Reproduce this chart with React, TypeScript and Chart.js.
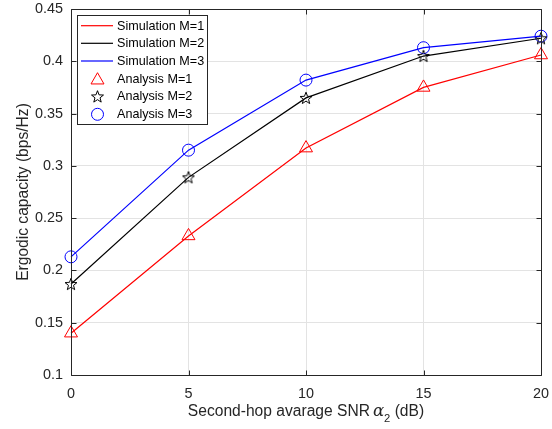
import React, { useEffect, useRef } from "react";
import { Chart, registerables } from "chart.js";

Chart.register(...registerables);

const snr = [0, 5, 10, 15, 20];
const simM1 = [0.14, 0.233, 0.317, 0.375, 0.406];
const simM2 = [0.187, 0.289, 0.365, 0.405, 0.422];
const simM3 = [0.213, 0.315, 0.382, 0.413, 0.424];
const anaM1 = [0.14, 0.233, 0.317, 0.375, 0.406];
const anaM2 = [0.187, 0.289, 0.365, 0.405, 0.422];
const anaM3 = [0.213, 0.315, 0.382, 0.413, 0.424];
const legendLabels = [
  "Simulation M=1",
  "Simulation M=2",
  "Simulation M=3",
  "Analysis M=1",
  "Analysis M=2",
  "Analysis M=3",
];
const yTicks = [0.1, 0.15, 0.2, 0.25, 0.3, 0.35, 0.4, 0.45];
const xTicks = [0, 5, 10, 15, 20];

const FONT = '"Liberation Sans", Arial, Helvetica, sans-serif';
const FS_TICK = 14.4;
const FS_LEG = 12.6;
const FS_LAB = 15.6;

function makeStar(): HTMLCanvasElement {
  const c = document.createElement("canvas");
  const s = 16;
  c.width = s;
  c.height = s;
  const ctx = c.getContext("2d")!;
  drawStar(ctx, s / 2, s / 2 + 0.5, 6.3);
  return c;
}

function drawStar(ctx: CanvasRenderingContext2D, cx: number, cy: number, R: number) {
  const r = R * 0.42;
  ctx.beginPath();
  for (let i = 0; i < 10; i++) {
    const rad = i % 2 === 0 ? R : r;
    const a = -Math.PI / 2 + (i * Math.PI) / 5;
    const x = cx + rad * Math.cos(a);
    const y = cy + rad * Math.sin(a);
    if (i === 0) ctx.moveTo(x, y);
    else ctx.lineTo(x, y);
  }
  ctx.closePath();
  ctx.strokeStyle = "#000";
  ctx.lineWidth = 1;
  ctx.stroke();
}

const framePlugin = {
  id: "frameAndLegend",
  afterDraw(chart: any) {
    const ctx: CanvasRenderingContext2D = chart.ctx;
    const { left, right, top, bottom } = chart.chartArea;
    const xs = chart.scales.x;
    const ys = chart.scales.y;
    ctx.save();
    // frame
    ctx.strokeStyle = "#262626";
    ctx.lineWidth = 1;
    const L = Math.round(left) + 0.5;
    const R = Math.round(right) + 0.5;
    const T = Math.round(top) + 0.5;
    const B = Math.round(bottom) + 0.5;
    ctx.beginPath();
    ctx.rect(L, T, R - L, B - T);
    ctx.stroke();
    // inward ticks
    const tl = 5;
    ctx.beginPath();
    xTicks.forEach((v) => {
      const px = Math.round(xs.getPixelForValue(v)) + 0.5;
      ctx.moveTo(px, B);
      ctx.lineTo(px, B - tl);
      ctx.moveTo(px, T);
      ctx.lineTo(px, T + tl);
    });
    yTicks.forEach((v) => {
      const py = Math.round(ys.getPixelForValue(v)) + 0.5;
      ctx.moveTo(L, py);
      ctx.lineTo(L + tl, py);
      ctx.moveTo(R, py);
      ctx.lineTo(R - tl, py);
    });
    ctx.stroke();

    // legend
    const bx = 77.5, by = 15.5, bw = 130, bh = 109;
    ctx.fillStyle = "#fff";
    ctx.fillRect(bx, by, bw, bh);
    ctx.strokeStyle = "#262626";
    ctx.strokeRect(bx, by, bw, bh);
    const colors = ["#ff0000", "#000000", "#0000ff"];
    const rows = [25.7, 43.3, 61, 78.7, 96.5, 114.3];
    ctx.font = `${FS_LEG}px ${FONT}`;
    ctx.textBaseline = "middle";
    ctx.textAlign = "left";
    for (let i = 0; i < 6; i++) {
      const y = rows[i];
      if (i < 3) {
        ctx.strokeStyle = colors[i];
        ctx.lineWidth = 1.2;
        ctx.beginPath();
        ctx.moveTo(81, y);
        ctx.lineTo(113, y);
        ctx.stroke();
      } else if (i === 3) {
        const r = 7.5;
        const cx = 97.5, cy = y + 1.5;
        ctx.strokeStyle = "#ff0000";
        ctx.lineWidth = 1;
        ctx.beginPath();
        ctx.moveTo(cx, cy - r);
        ctx.lineTo(cx + r * Math.sin((2 * Math.PI) / 3), cy - r * Math.cos((2 * Math.PI) / 3));
        ctx.lineTo(cx + r * Math.sin((4 * Math.PI) / 3), cy - r * Math.cos((4 * Math.PI) / 3));
        ctx.closePath();
        ctx.stroke();
      } else if (i === 4) {
        drawStar(ctx, 97.5, y + 0.5, 6.3);
      } else {
        ctx.strokeStyle = "#0000ff";
        ctx.lineWidth = 1;
        ctx.beginPath();
        ctx.arc(97.5, y, 6, 0, Math.PI * 2);
        ctx.stroke();
      }
      ctx.fillStyle = "#000";
      ctx.fillText(legendLabels[i], 117, y + 0.5);
    }

    // x title
    ctx.fillStyle = "#262626";
    const p1 = "Second-hop avarage SNR";
    const fontN = `${FS_LAB}px ${FONT}`;
    const fontA = `italic ${FS_LAB + 1}px "DejaVu Serif", "Liberation Serif", serif`;
    const fontS = `${FS_LAB * 0.72}px ${FONT}`;
    const p4 = " (dB)";
    ctx.font = fontN;
    const w1 = ctx.measureText(p1).width;
    const w4 = ctx.measureText(p4).width;
    ctx.font = fontA;
    const w2 = ctx.measureText("α").width;
    ctx.font = fontS;
    const w3 = ctx.measureText("2").width;
    const gap = 3;
    const total = w1 + gap + w2 + w3 + w4;
    let x = (left + right) / 2 - total / 2;
    const ty = 412;
    ctx.font = fontN;
    ctx.fillText(p1, x, ty);
    x += w1 + gap;
    ctx.font = fontA;
    ctx.fillText("α", x, ty);
    x += w2;
    ctx.font = fontS;
    ctx.fillText("2", x, ty + 7);
    x += w3;
    ctx.font = fontN;
    ctx.fillText(p4, x, ty);

    // y title
    ctx.save();
    ctx.translate(23.5, (top + bottom) / 2);
    ctx.rotate(-Math.PI / 2);
    ctx.textAlign = "center";
    ctx.textBaseline = "middle";
    ctx.font = fontN;
    ctx.fillText("Ergodic capacity (bps/Hz)", 0, 0);
    ctx.restore();

    ctx.restore();
  },
};

export default function App() {
  const ref = useRef<HTMLCanvasElement>(null);
  useEffect(() => {
    document.body.style.margin = "0";
    const star = makeStar();
    const toPts = (ys: number[]) => snr.map((x, i) => ({ x, y: ys[i] }));
    const chart = new Chart(ref.current!, {
      type: "line",
      data: {
        datasets: [
          { label: legendLabels[0], data: toPts(simM1), borderColor: "#ff0000", borderWidth: 1.2, pointRadius: 0, fill: false, clip: false },
          { label: legendLabels[1], data: toPts(simM2), borderColor: "#000000", borderWidth: 1.2, pointRadius: 0, fill: false, clip: false },
          { label: legendLabels[2], data: toPts(simM3), borderColor: "#0000ff", borderWidth: 1.2, pointRadius: 0, fill: false, clip: false },
          { label: legendLabels[3], data: toPts(anaM1), showLine: false, clip: false, pointStyle: "triangle", pointRadius: 7.5, pointBorderColor: "#ff0000", pointBackgroundColor: "rgba(0,0,0,0)", pointBorderWidth: 1 },
          { label: legendLabels[4], data: toPts(anaM2), showLine: false, clip: false, pointStyle: star as any, pointRadius: 8, pointBorderColor: "#000", pointBackgroundColor: "rgba(0,0,0,0)" },
          { label: legendLabels[5], data: toPts(anaM3), showLine: false, clip: false, pointStyle: "circle", pointRadius: 6, pointBorderColor: "#0000ff", pointBackgroundColor: "rgba(0,0,0,0)", pointBorderWidth: 1 },
        ] as any,
      },
      options: {
        animation: false,
        responsive: true,
        maintainAspectRatio: false,
        events: [],
        layout: { padding: { top: 7, right: 11, left: 0, bottom: 0 } },
        plugins: { legend: { display: false }, tooltip: { enabled: false } },
        scales: {
          x: {
            type: "linear",
            min: 0,
            max: 20,
            afterFit: (s: any) => { s.height = 54; s.paddingLeft = 0; s.paddingRight = 0; },
            afterBuildTicks: (s: any) => { s.ticks = xTicks.map((v) => ({ value: v })); },
            ticks: { padding: 10, color: "#262626", font: { family: FONT, size: FS_TICK }, maxRotation: 0, callback: (v: any) => String(v) },
            grid: { color: "#e3e3e3", drawTicks: false },
            border: { display: false },
          },
          y: {
            type: "linear",
            min: 0.1,
            max: 0.45,
            afterFit: (s: any) => { s.width = 71; s.paddingTop = 0; s.paddingBottom = 0; },
            afterBuildTicks: (s: any) => { s.ticks = yTicks.map((v) => ({ value: v })); },
            ticks: { padding: 8, color: "#262626", font: { family: FONT, size: FS_TICK }, callback: (v: any) => String(Number(Number(v).toFixed(2))) },
            grid: { color: "#e3e3e3", drawTicks: false },
            border: { display: false },
          },
        },
      },
      plugins: [framePlugin],
    });
    return () => chart.destroy();
  }, []);
  return (
    <div style={{ width: 552, height: 429, position: "relative", background: "#fff" }}>
      <canvas ref={ref} />
    </div>
  );
}
